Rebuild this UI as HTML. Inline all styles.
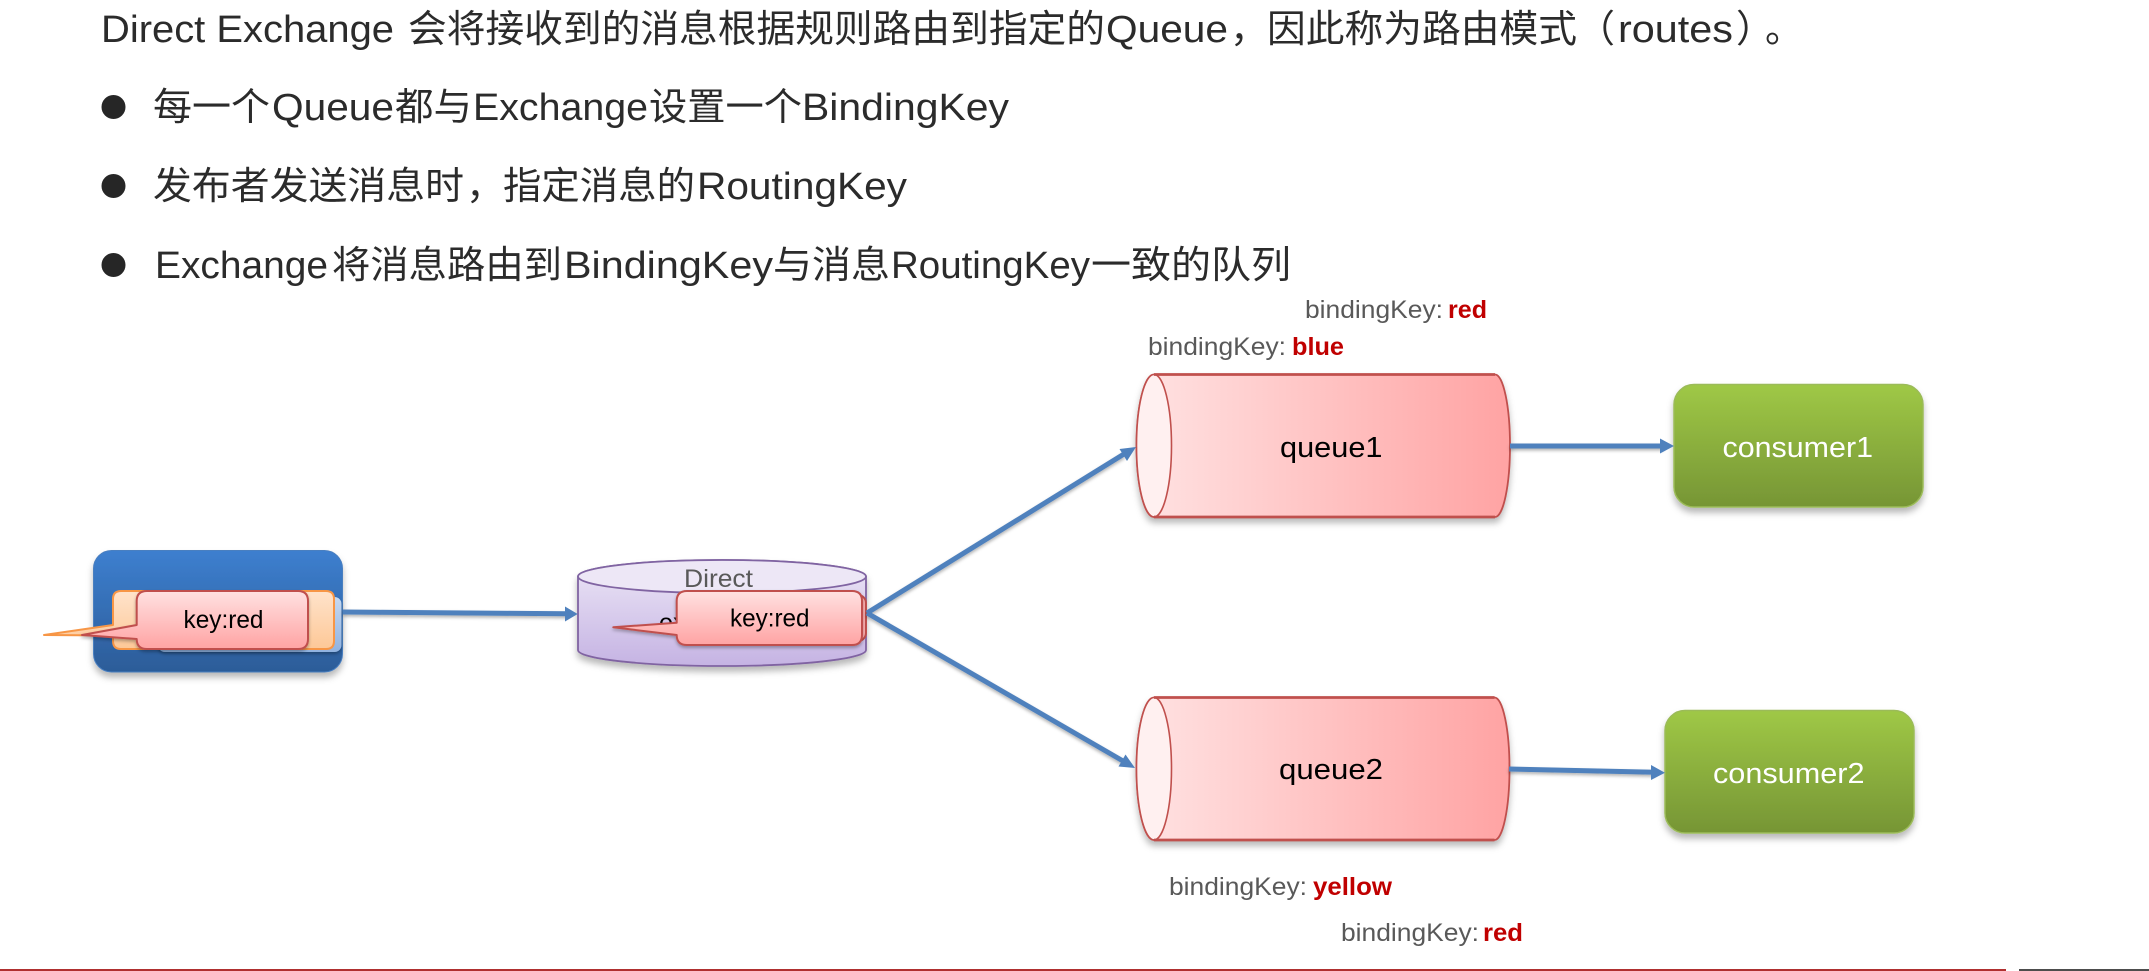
<!DOCTYPE html>
<html><head><meta charset="utf-8"><style>
html,body{margin:0;padding:0;background:#fff;width:2149px;height:971px;overflow:hidden}
svg{display:block}
text{font-family:"Liberation Sans","Noto Sans CJK SC",sans-serif}
.t{font-size:38px;fill:#2b2b2b}
.k{font-size:25px;fill:#595959}
.b{font-size:25px;fill:#c00000;font-weight:bold}
.n{font-size:29px;fill:#000}
.c{font-size:29px;fill:#fff}
.r{font-size:25px;fill:#000}
</style></head><body>
<svg width="2149" height="971" viewBox="0 0 2149 971" xmlns="http://www.w3.org/2000/svg">
<defs>
<linearGradient id="q" x1="0" x2="1" y1="0" y2="0"><stop offset="0" stop-color="#ffe3e3"/><stop offset="1" stop-color="#ffa3a3"/></linearGradient>
<linearGradient id="g" x1="0" x2="0" y1="0" y2="1"><stop offset="0" stop-color="#9fc846"/><stop offset="1" stop-color="#769535"/></linearGradient>
<linearGradient id="p" x1="0" x2="0" y1="0" y2="1"><stop offset="0" stop-color="#3d7fcf"/><stop offset="1" stop-color="#2c5c98"/></linearGradient>
<linearGradient id="e" x1="0" x2="0" y1="0" y2="1"><stop offset="0" stop-color="#ece6f6"/><stop offset="1" stop-color="#c5b3e3"/></linearGradient>
<linearGradient id="r" x1="0" x2="0" y1="0" y2="1"><stop offset="0" stop-color="#ffe1e1"/><stop offset="1" stop-color="#ffa3a3"/></linearGradient>
<linearGradient id="o" x1="0" x2="0" y1="0" y2="1"><stop offset="0" stop-color="#ffe3cb"/><stop offset="1" stop-color="#fdc897"/></linearGradient>
<linearGradient id="lb" x1="0" x2="0" y1="0" y2="1"><stop offset="0" stop-color="#c6d9f1"/><stop offset="1" stop-color="#8fb2e0"/></linearGradient>
<filter id="s" x="-10%" y="-10%" width="120%" height="130%"><feDropShadow dx="0" dy="5" stdDeviation="3.5" flood-color="#000" flood-opacity=".28"/></filter>
<filter id="s2" x="-10%" y="-20%" width="120%" height="150%"><feDropShadow dx="0" dy="2" stdDeviation="1.5" flood-color="#000" flood-opacity=".3"/></filter>
</defs>

<!-- header text -->
<g class="hd">
<text class="t" x="101" y="42" textLength="293" lengthAdjust="spacingAndGlyphs">Direct Exchange</text>
<text class="t" x="408" y="42" textLength="697" lengthAdjust="spacingAndGlyphs">会将接收到的消息根据规则路由到指定的</text>
<text class="t" x="1106" y="42" textLength="122" lengthAdjust="spacingAndGlyphs">Queue</text>
<text class="t" x="1230" y="42" textLength="38" lengthAdjust="spacingAndGlyphs">，</text>
<text class="t" x="1267" y="42" textLength="310" lengthAdjust="spacingAndGlyphs">因此称为路由模式</text>
<text class="t" x="1577" y="42" textLength="38" lengthAdjust="spacingAndGlyphs">（</text>
<text class="t" x="1618" y="42" textLength="115" lengthAdjust="spacingAndGlyphs">routes</text>
<text class="t" x="1736" y="42" textLength="38" lengthAdjust="spacingAndGlyphs">）</text>
<text class="t" x="1765" y="42" textLength="38" lengthAdjust="spacingAndGlyphs">。</text>
</g>

<circle cx="113.5" cy="107" r="12" fill="#262626"/>
<text class="t" x="153" y="120" textLength="117" lengthAdjust="spacingAndGlyphs">每一个</text>
<text class="t" x="272" y="120" textLength="122" lengthAdjust="spacingAndGlyphs">Queue</text>
<text class="t" x="395" y="120" textLength="77" lengthAdjust="spacingAndGlyphs">都与</text>
<text class="t" x="473" y="120" textLength="175" lengthAdjust="spacingAndGlyphs">Exchange</text>
<text class="t" x="649" y="120" textLength="153" lengthAdjust="spacingAndGlyphs">设置一个</text>
<text class="t" x="802" y="120" textLength="207" lengthAdjust="spacingAndGlyphs">BindingKey</text>

<circle cx="113.5" cy="186" r="12" fill="#262626"/>
<text class="t" x="153" y="199" textLength="311" lengthAdjust="spacingAndGlyphs">发布者发送消息时</text>
<text class="t" x="466" y="199" textLength="38" lengthAdjust="spacingAndGlyphs">，</text>
<text class="t" x="503" y="199" textLength="192" lengthAdjust="spacingAndGlyphs">指定消息的</text>
<text class="t" x="697" y="199" textLength="210" lengthAdjust="spacingAndGlyphs">RoutingKey</text>

<circle cx="113.5" cy="265" r="12" fill="#262626"/>
<text class="t" x="155" y="278" textLength="173" lengthAdjust="spacingAndGlyphs">Exchange</text>
<text class="t" x="332" y="278" textLength="230" lengthAdjust="spacingAndGlyphs">将消息路由到</text>
<text class="t" x="564" y="278" textLength="209" lengthAdjust="spacingAndGlyphs">BindingKey</text>
<text class="t" x="773" y="278" textLength="117" lengthAdjust="spacingAndGlyphs">与消息</text>
<text class="t" x="891" y="278" textLength="199" lengthAdjust="spacingAndGlyphs">RoutingKey</text>
<text class="t" x="1091" y="278" textLength="200" lengthAdjust="spacingAndGlyphs">一致的队列</text>

<!-- binding keys -->
<text class="k" x="1305" y="318" textLength="138" lengthAdjust="spacingAndGlyphs">bindingKey:</text>
<text class="b" x="1448" y="318" textLength="39" lengthAdjust="spacingAndGlyphs">red</text>
<text class="k" x="1148" y="355" textLength="138" lengthAdjust="spacingAndGlyphs">bindingKey:</text>
<text class="b" x="1292" y="355" textLength="52" lengthAdjust="spacingAndGlyphs">blue</text>
<text class="k" x="1169" y="895" textLength="138" lengthAdjust="spacingAndGlyphs">bindingKey:</text>
<text class="b" x="1313" y="895" textLength="79" lengthAdjust="spacingAndGlyphs">yellow</text>
<text class="k" x="1341" y="941" textLength="138" lengthAdjust="spacingAndGlyphs">bindingKey:</text>
<text class="b" x="1483" y="941" textLength="40" lengthAdjust="spacingAndGlyphs">red</text>

<!-- publisher -->
<rect x="93.500" y="550.500" width="249" height="121.500" rx="18" fill="url(#p)" stroke="#4a7fc0" stroke-width="1" filter="url(#s)"/>
<rect x="158" y="597" width="183.500" height="55" rx="7" fill="url(#lb)" filter="url(#s2)"/>
<path d="M44,635 L113,625 L113,599 Q113,591 121,591 L326,591 Q334,591 334,599 L334,641 Q334,649 326,649 L121,649 Q113,649 113,641 L113,635.500 Z" fill="url(#o)" stroke="#f79646" stroke-width="2" stroke-linejoin="round"/>
<path d="M82,635 L136.700,625 L136.700,601 Q136.700,591 147,591 L298,591 Q308,591 308,601 L308,639 Q308,649 298,649 L147,649 Q136.700,649 136.700,639 Z" fill="url(#r)" stroke="#c0504d" stroke-width="2" stroke-linejoin="round" filter="url(#s2)"/>
<text class="r" x="183.500" y="628" textLength="80" lengthAdjust="spacingAndGlyphs">key:red</text>

<!-- exchange -->
<g filter="url(#s)">
<path d="M578,576.500 A144,16.500 0 0 1 866,576.500 L866,650 A144,16 0 0 1 578,650 Z" fill="url(#e)" stroke="#8064a2" stroke-width="1.800"/>
</g>
<ellipse cx="722" cy="576.500" rx="144" ry="16.500" fill="#ede7f6" stroke="#8064a2" stroke-width="1.800"/>
<text x="684" y="587" font-size="25" fill="#595959" textLength="69" lengthAdjust="spacingAndGlyphs">Direct</text>
<text x="659" y="631" font-size="25" fill="#000" textLength="110" lengthAdjust="spacingAndGlyphs">exchange</text>

<!-- right callout -->
<rect x="690" y="595" width="176" height="46" rx="8" fill="#ffb0b0" stroke="#c0504d" stroke-width="2"/>
<path d="M613.300,627.300 L676.700,622.700 L676.700,601 Q676.700,591 687,591 L852,591 Q862,591 862,601 L862,635 Q862,645 852,645 L687,645 Q676.700,645 676.700,635 Z" fill="url(#r)" stroke="#c0504d" stroke-width="2" stroke-linejoin="round" filter="url(#s2)"/>
<text class="r" x="730" y="626.500" textLength="79.500" lengthAdjust="spacingAndGlyphs">key:red</text>

<!-- queue1 -->
<g filter="url(#s)">
<path d="M1154,374.500 L1495,374.500 A15,71.200 0 0 1 1495,517 L1154,517 A17.500,71.200 0 0 1 1154,374.500 Z" fill="url(#q)" stroke="#c0504d" stroke-width="1.800"/>
</g>
<ellipse cx="1154" cy="445.700" rx="17.500" ry="71.200" fill="#fff0f0" stroke="#c0504d" stroke-width="1.600"/>
<path d="M1154,374.500H1495M1154,517H1495" stroke="#c0504d" stroke-width="2.800" fill="none"/>
<text class="n" x="1280" y="457" textLength="102.500" lengthAdjust="spacingAndGlyphs">queue1</text>

<!-- queue2 -->
<g filter="url(#s)">
<path d="M1154,697.500 L1494.500,697.500 A15,71.200 0 0 1 1494.500,840 L1154,840 A17.500,71.200 0 0 1 1154,697.500 Z" fill="url(#q)" stroke="#c0504d" stroke-width="1.800"/>
</g>
<ellipse cx="1154" cy="768.700" rx="17.500" ry="71.200" fill="#fff0f0" stroke="#c0504d" stroke-width="1.600"/>
<path d="M1154,697.500H1494.500M1154,840H1494.500" stroke="#c0504d" stroke-width="2.800" fill="none"/>
<text class="n" x="1279" y="779" textLength="104" lengthAdjust="spacingAndGlyphs">queue2</text>

<!-- consumers -->
<rect x="1674" y="384.500" width="249" height="122.500" rx="20" fill="url(#g)" stroke="#9bbb59" stroke-width="1.500" filter="url(#s)"/>
<text class="c" x="1722.500" y="457" textLength="150.500" lengthAdjust="spacingAndGlyphs">consumer1</text>
<rect x="1665" y="710.500" width="249" height="122.500" rx="20" fill="url(#g)" stroke="#9bbb59" stroke-width="1.500" filter="url(#s)"/>
<text class="c" x="1713" y="783" textLength="151.500" lengthAdjust="spacingAndGlyphs">consumer2</text>

<!-- connectors -->
<g stroke="#4f81bd" stroke-width="5" fill="none" filter="url(#s2)">
<line x1="343" y1="612" x2="568" y2="613.800"/>
<line x1="867" y1="613" x2="1124" y2="454"/>
<line x1="867" y1="613" x2="1123" y2="761"/>
<line x1="1510" y1="446" x2="1664" y2="446"/>
<line x1="1509" y1="769" x2="1655" y2="772.300"/>
</g>
<g fill="#4f81bd">
<path d="M577.700,614 L565,606.500 L565,621.500 Z"/>
<path d="M1136,447 L1119.500,449 L1127,461 Z"/>
<path d="M1135,768 L1125.500,754.500 L1118.500,766.500 Z"/>
<path d="M1674,446 L1660,438.500 L1660,453.500 Z"/>
<path d="M1665,772.700 L1651,765 L1651,780 Z"/>
</g>

<!-- bottom rule -->
<rect x="0" y="969" width="2006" height="2" fill="#b03030"/>
<rect x="2019" y="969" width="130" height="2" fill="#4d4d4d"/>
</svg>
</body></html>
